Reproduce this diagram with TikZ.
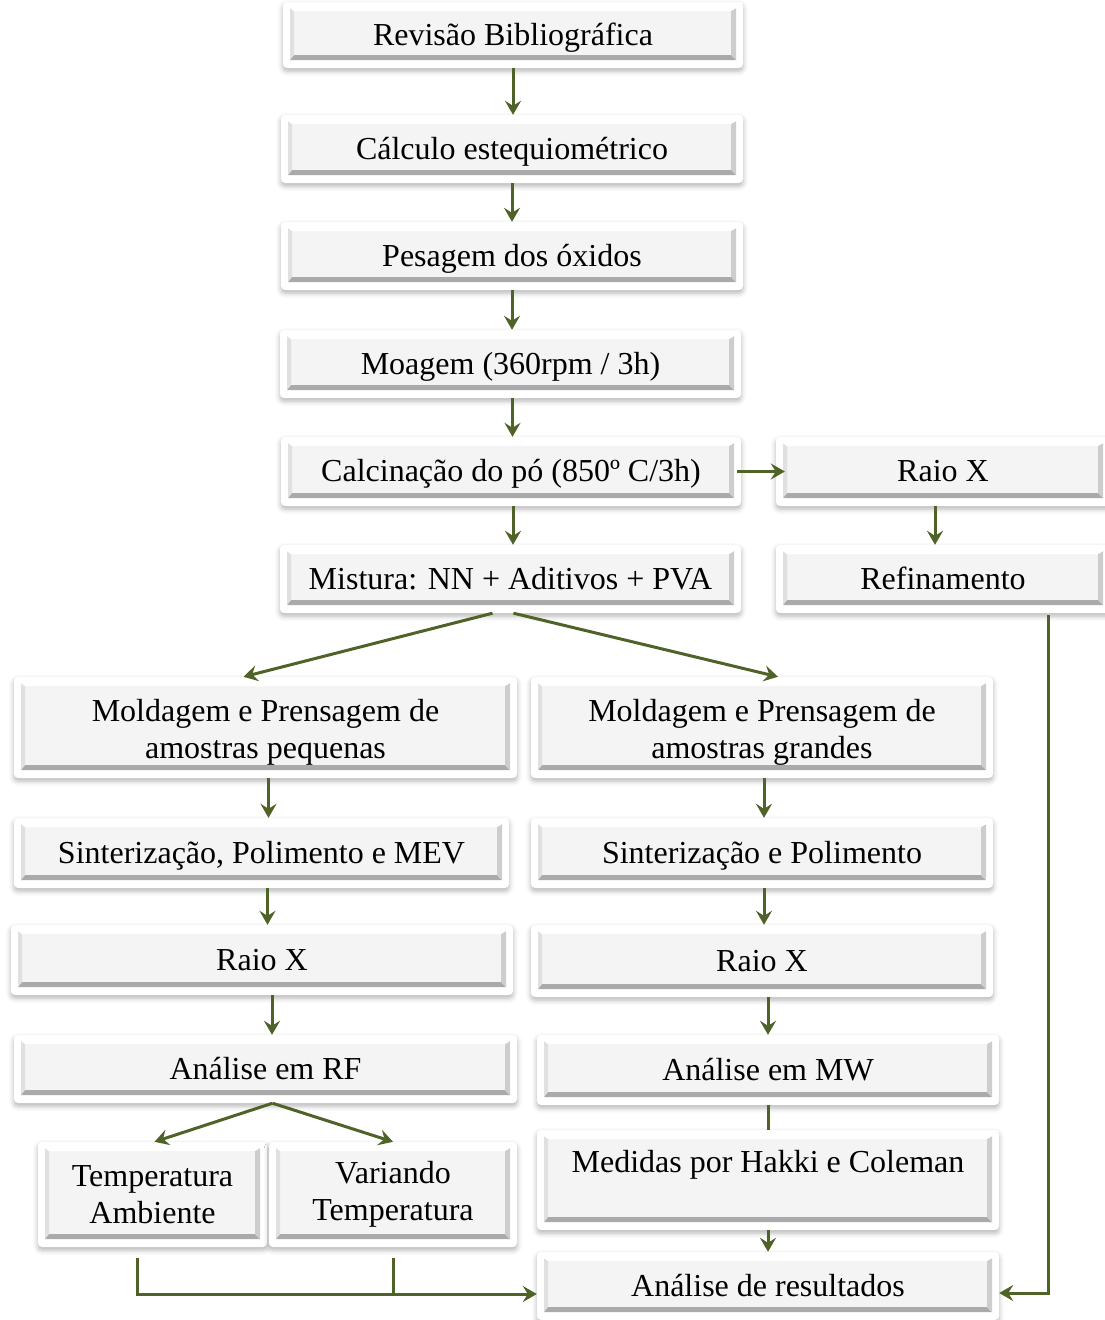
\documentclass[tikz,border=0pt]{standalone}
\usepackage{fontspec}
\setmainfont{Liberation Serif}
\usetikzlibrary{arrows.meta,calc,shadows.blur}

\definecolor{flowgreen}{RGB}{79,98,40}
\definecolor{boxface}{RGB}{244,244,244}
\definecolor{bevellow}{RGB}{170,170,170}
\definecolor{bevelside}{RGB}{205,205,205}
\definecolor{bevelleft}{RGB}{224,224,224}

% beveled face drawn inside each white frame
\newcommand{\bevelface}{%
  \coordinate (bsw) at ($(path picture bounding box.south west)+(7,8)$);
  \coordinate (bne) at ($(path picture bounding box.north east)+(-7,-6)$);
  \coordinate (bse) at (bsw -| bne);
  \coordinate (bnw) at (bne -| bsw);
  \begin{scope}[sharp corners]
  \fill[boxface] (bsw) rectangle (bne);
  % bottom, right, left, top edges
  \fill[bevellow] (bsw) -- (bse) -- ($(bse)+(-5,5)$) -- ($(bsw)+(4,5)$) -- cycle;
  \fill[bevelside] (bse) -- (bne) -- ($(bne)+(-5,-3)$) -- ($(bse)+(-5,5)$) -- cycle;
  \fill[bevelleft] (bsw) -- ($(bsw)+(4,5)$) -- ($(bnw)+(4,-3)$) -- (bnw) -- cycle;
  \fill[white] (bnw) -- (bne) -- ($(bne)+(-5,-3)$) -- ($(bnw)+(4,-3)$) -- cycle;
  \end{scope}}

\tikzset{
  stepbox/.style={fill=white, rounded corners=4pt, align=center, inner sep=0pt,
    text height=27pt, text depth=7pt,
    blur shadow={shadow xshift=0pt, shadow yshift=-3pt, shadow blur radius=5pt, shadow opacity=30},
    path picture={\bevelface}},
  tworows/.style={text height={}, text depth={}},
  flow/.style={draw=flowgreen, line width=3pt, -{Stealth[length=14pt,width=16pt,inset=5pt]}},
  link/.style={draw=flowgreen, line width=3pt}
}

\begin{document}
\begin{tikzpicture}[x=1pt,y=1pt,font=\fontsize{32}{37}\selectfont]
\useasboundingbox (0,0) rectangle (1105,-1320);

% main column
\node[stepbox, minimum width=460pt, minimum height=66pt] (rev) at (513,-35) {Revisão Bibliográfica};
\node[stepbox, minimum width=462pt, minimum height=68pt] (est) at (512,-149) {Cálculo estequiométrico};
\node[stepbox, minimum width=462pt, minimum height=68pt] (pes) at (512,-256) {Pesagem dos óxidos};
\node[stepbox, minimum width=461pt, minimum height=68pt] (moa) at (510.5,-364) {Moagem (360rpm / 3h)};
\node[stepbox, minimum width=460pt, minimum height=69pt] (cal) at (511,-471.5) {Calcinação do pó (850º C/3h)};
\node[stepbox, minimum width=461pt, minimum height=68pt] (mis) at (510.5,-579) {Mistura: NN + Aditivos + PVA};

% right column
\node[stepbox, minimum width=334pt, minimum height=69pt] (rx) at (943,-471.5) {Raio X};
\node[stepbox, minimum width=334pt, minimum height=68pt] (ref) at (943,-579) {Refinamento};

% small samples
\node[stepbox, tworows, minimum width=503pt, minimum height=101pt] (molp) at (265.5,-727.5) {\rule{0pt}{32pt}Moldagem e Prensagem de\\amostras pequenas};
\node[stepbox, minimum width=495pt, minimum height=70pt] (sinp) at (261.5,-853) {Sinterização, Polimento e MEV};
\node[stepbox, minimum width=502pt, minimum height=70pt] (rxp) at (262,-960) {Raio X};
\node[stepbox, minimum width=503pt, minimum height=68pt] (rf) at (265.5,-1069) {Análise em RF};
\node[stepbox, tworows, minimum width=229pt, minimum height=105pt] (amb) at (152.5,-1194.5) {Temperatura\\Ambiente};
\node[stepbox, tworows, minimum width=248pt, minimum height=105pt] (var) at (393,-1194.5) {Variando\\Temperatura};

% large samples
\node[stepbox, tworows, minimum width=462pt, minimum height=101pt] (molg) at (762,-727.5) {\rule{0pt}{32pt}Moldagem e Prensagem de\\amostras grandes};
\node[stepbox, minimum width=462pt, minimum height=70pt] (sing) at (762,-853) {Sinterização e Polimento};
\node[stepbox, minimum width=462pt, minimum height=72pt] (rxg) at (762,-961) {Raio X};
\node[stepbox, minimum width=462pt, minimum height=70pt] (mw) at (768,-1070) {Análise em MW};
\node[stepbox, tworows, minimum width=462pt, minimum height=100pt] (med) at (768,-1180) {Medidas por Hakki e Coleman\\~};
\node[stepbox, minimum width=462pt, minimum height=68pt] (res) at (768,-1286) {Análise de resultados};

% arrows
\draw[flow] (rev.south) -- (rev.south |- est.north);
\draw[flow] (est.south) -- (est.south |- pes.north);
\draw[flow] (pes.south) -- (pes.south |- moa.north);
\draw[flow] ([xshift=2pt]moa.south) -- ([xshift=2pt]moa.south |- cal.north);
\draw[flow] ([xshift=2pt]cal.south) -- ([xshift=2pt]cal.south |- mis.north);
\draw[flow] ([xshift=-4pt]cal.east) -- ([xshift=9pt]rx.west);
\draw[flow] ([xshift=-8pt]rx.south) -- ([xshift=-8pt]rx.south |- ref.north);

\draw[flow] ([xshift=-18pt]mis.south) -- ([xshift=-22pt]molp.north);
\draw[flow] ([xshift=3pt]mis.south) -- ([xshift=16pt]molg.north);

\draw[flow] ([xshift=3pt]molp.south) -- ([xshift=3pt]molp.south |- sinp.north);
\draw[flow] ([xshift=6pt]sinp.south) -- ([xshift=6pt]sinp.south |- rxp.north);
\draw[flow] ([xshift=10pt]rxp.south) -- ([xshift=10pt]rxp.south |- rf.north);
\draw[flow] ([xshift=7pt]rf.south) -- ([xshift=2pt]amb.north);
\draw[flow] ([xshift=7pt]rf.south) -- (var.north);

\draw[flow] ([xshift=2pt]molg.south) -- ([xshift=2pt]molg.south |- sing.north);
\draw[flow] ([xshift=2pt]sing.south) -- ([xshift=2pt]sing.south |- rxg.north);
\draw[flow] ([xshift=6pt]rxg.south) -- (mw.north);
\draw[link] (mw.south) -- (med.north);
\draw[flow] (med.south) -- (res.north);

% lines into the results box
\coordinate (join) at ([yshift=-8pt]res.west);
\draw[flow] ([xshift=-15pt,yshift=-11pt]amb.south) |- (join);
\draw[link] ([yshift=-11pt]var.south) -- (var.south |- join);
\draw[flow] ([xshift=105pt,yshift=-2pt]ref.south) |- ([yshift=-7pt]res.east);
\end{tikzpicture}
\end{document}
